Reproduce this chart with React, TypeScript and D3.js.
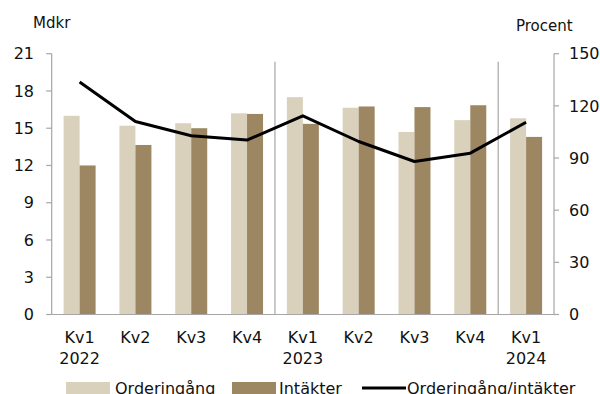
import React from "react";
import * as d3 from "d3";

const categories = ["Kv1\n2022", "Kv2", "Kv3", "Kv4", "Kv1\n2023", "Kv2", "Kv3", "Kv4", "Kv1\n2024"];
const orderingang = [16.0, 15.2, 15.4, 16.2, 17.5, 16.65, 14.7, 15.65, 15.8];
const intakter = [12.0, 13.65, 15.0, 16.15, 15.35, 16.75, 16.7, 16.85, 14.3];
const ratio = [133.7, 111, 102.8, 100.3, 114.3, 99.5, 88, 92.8, 110.6];
const leftTicks = [0, 3, 6, 9, 12, 15, 18, 21];
const rightTicks = [0, 30, 60, 90, 120, 150];
const separators = [4, 8];

const W = 600, H = 394;
const left = 51.7, right = 554, top = 53.7, bottom = 314.5;
const FONT = "DejaVu Sans, sans-serif";
const LIGHT = "#dad1bd";
const DARK = "#9d8762";
const AXIS = "#a6a6a6";
const TEXT = "#111";

export default function App() {
  const x = d3.scaleBand<number>().domain(categories.map((_, i) => i)).range([left, right]).padding(0);
  const yL = d3.scaleLinear().domain([0, 21]).range([bottom, top]);
  const yR = d3.scaleLinear().domain([0, 150]).range([bottom, top]);
  const bw = 16;
  const line = d3.line<number>().x((_, i) => x(i)! + x.bandwidth() / 2).y(d => yR(d));

  return (
    <svg width={W} height={H} style={{ position: "absolute", left: 0, top: 0 }} fontFamily={FONT}>
      <rect width={W} height={H} fill="#fff" />
      <text x={33} y={28} fontSize={15} fill={TEXT}>Mdkr</text>
      <text x={516} y={31} fontSize={15} fill={TEXT}>Procent</text>
      {separators.map(s => (
        <line key={s} x1={x(s)} x2={x(s)} y1={61.7} y2={bottom} stroke={AXIS} strokeWidth={1.2} />
      ))}
      {categories.map((c, i) => {
        const cx = x(i)! + x.bandwidth() / 2;
        return (
          <g key={i}>
            <rect x={cx - bw} y={yL(orderingang[i])} width={bw} height={bottom - yL(orderingang[i])} fill={LIGHT} />
            <rect x={cx} y={yL(intakter[i])} width={bw} height={bottom - yL(intakter[i])} fill={DARK} />
            {c.split("\n").map((t, j) => (
              <text key={j} x={cx} y={342.5 + j * 21} fontSize={16} textAnchor="middle" fill={TEXT}>{t}</text>
            ))}
          </g>
        );
      })}
      <path d={line(ratio)!} fill="none" stroke="#000" strokeWidth={3} strokeLinejoin="round" />
      <line x1={left} x2={left} y1={top} y2={bottom} stroke={AXIS} strokeWidth={1.2} />
      <line x1={right} x2={right} y1={top} y2={bottom} stroke={AXIS} strokeWidth={1.2} />
      <line x1={left} x2={right} y1={bottom} y2={bottom} stroke={AXIS} strokeWidth={1.2} />
      {leftTicks.map(t => (
        <g key={t}>
          <line x1={left - 5.5} x2={left} y1={yL(t)} y2={yL(t)} stroke={AXIS} strokeWidth={1.2} />
          <text x={34} y={yL(t)} dy="0.36em" fontSize={16} textAnchor="end" fill={TEXT}>{t}</text>
        </g>
      ))}
      {rightTicks.map(t => (
        <g key={t}>
          <line x1={right} x2={right + 5} y1={yR(t)} y2={yR(t)} stroke={AXIS} strokeWidth={1.2} />
          <text x={569} y={yR(t)} dy="0.36em" fontSize={16} textAnchor="start" fill={TEXT}>{t}</text>
        </g>
      ))}
      <g fontSize={16} fill={TEXT}>
        <rect x={66} y={382} width={44} height={12} fill={LIGHT} />
        <text x={115} y={393.5}>Orderingång</text>
        <rect x={232} y={382} width={44} height={12} fill={DARK} />
        <text x={279} y={393.5}>Intäkter</text>
        <line x1={362} x2={406} y1={388} y2={388} stroke="#000" strokeWidth={3} />
        <text x={407} y={393.5}>Orderingång/intäkter</text>
      </g>
    </svg>
  );
}
